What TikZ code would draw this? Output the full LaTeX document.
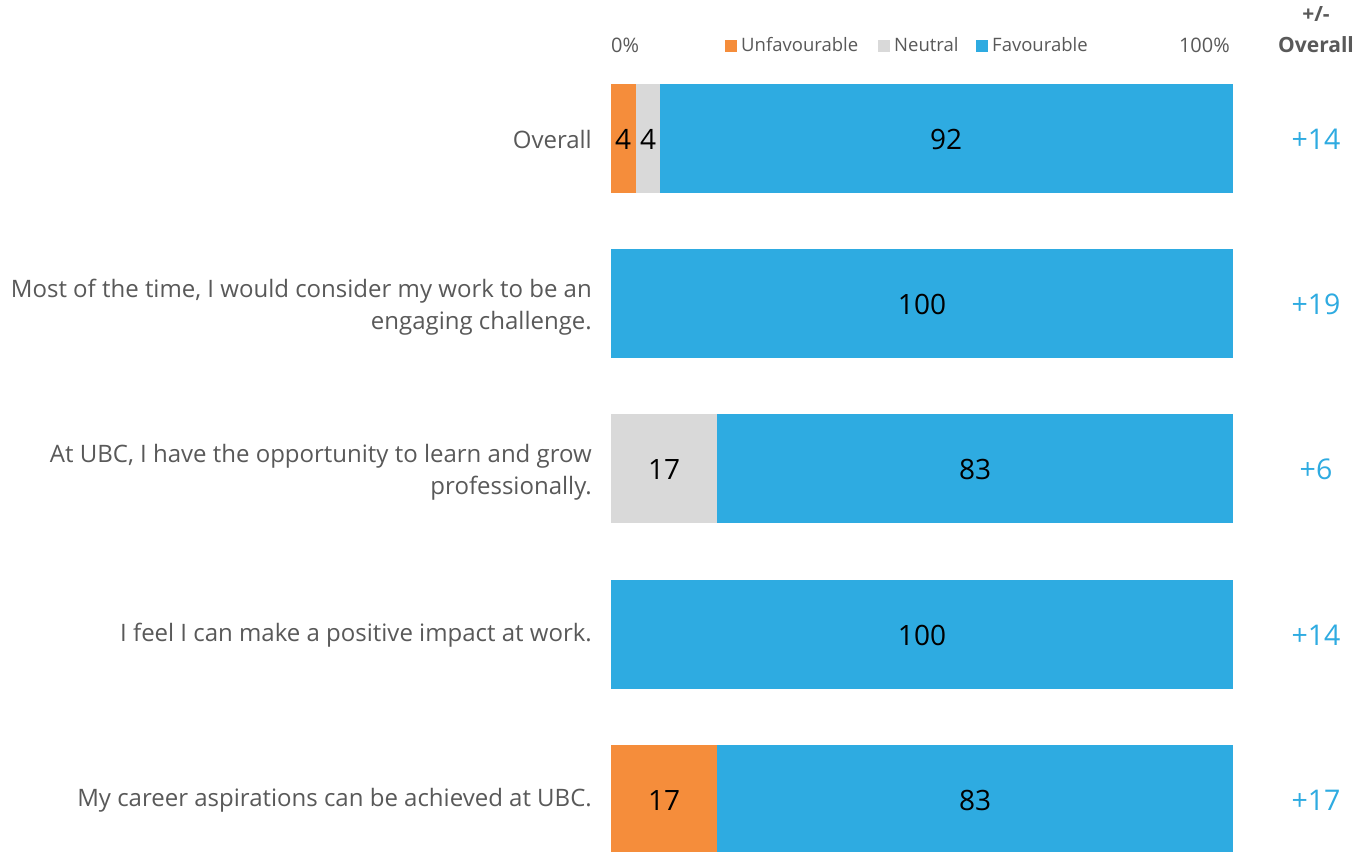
\documentclass[tikz,border=0pt]{standalone}
\usepackage{fontspec}
\setmainfont{Open Sans}
\definecolor{cblue}{HTML}{2EABE1}
\definecolor{corange}{HTML}{F58D3B}
\definecolor{cgray}{HTML}{D9D9D9}
\definecolor{ctext}{HTML}{595959}
\tikzset{
  lbl/.style={anchor=east, align=right, text=ctext, inner sep=0pt, font=\fontsize{24}{32}\selectfont},
  num/.style={inner sep=0pt, text=black, font=\fontsize{28}{34}\selectfont},
  diff/.style={inner sep=0pt, text=cblue, font=\fontsize{28.5}{34}\selectfont},
  leg/.style={inner sep=0pt, text=ctext, font=\fontsize{18.5}{22}\selectfont},
  pct/.style={inner sep=0pt, text=ctext, font=\fontsize{20}{22}\selectfont},
  hdr/.style={inner sep=0pt, text=ctext, font=\bfseries\fontsize{21}{24}\selectfont},
  sq/.style={minimum size=12pt, inner sep=0pt}
}
\begin{document}
\begin{tikzpicture}[x=1pt,y=-1pt]
\useasboundingbox[fill=white] (0,0) rectangle (1356,851);
% header
\node[pct, anchor=west] (p0) at (611,45) {0\%};
\node[pct, anchor=east] (p100) at (1230,45) {100\%};
\node[sq, fill=corange] (s1) at (731,46) {};
\node[leg, anchor=west] (l1) at (741,45) {Unfavourable};
\node[sq, fill=cgray] (s2) at (884,46) {};
\node[leg, anchor=west] (l2) at (894,45) {Neutral};
\node[sq, fill=cblue] (s3) at (982,46) {};
\node[leg, anchor=west] (l3) at (992,45) {Favourable};
\node[hdr] (h1) at (1316,14) {+/-};
\node[hdr] (h2) at (1316,45) {Overall};
% row 1
\fill[corange] (611,84) rectangle (636,193);
\fill[cgray] (636,84) rectangle (660,193);
\fill[cblue] (660,84) rectangle (1233,193);
\node[num] (r1a) at (623,139) {4};
\node[num] (r1b) at (648,139) {4};
\node[num] (r1c) at (946,139) {92};
\node[lbl] (t1) at (592,139) {Overall};
\node[diff] (d1) at (1316,139) {+14};
% row 2
\fill[cblue] (611,249) rectangle (1233,358);
\node[num] (r2c) at (922,304) {100};
\node[lbl] (t2) at (592,307) {Most of the time, I would consider my work to be an\\engaging challenge.};
\node[diff] (d2) at (1316,304) {+19};
% row 3
\fill[cgray] (611,414) rectangle (717,523);
\fill[cblue] (717,414) rectangle (1233,523);
\node[num] (r3b) at (664,469) {17};
\node[num] (r3c) at (975,469) {83};
\node[lbl] (t3) at (592,472) {At UBC, I have the opportunity to learn and grow\\professionally.};
\node[diff] (d3) at (1316,469) {+6};
% row 4
\fill[cblue] (611,580) rectangle (1233,689);
\node[num] (r4c) at (922,635) {100};
\node[lbl] (t4) at (592,635) {I feel I can make a positive impact at work.};
\node[diff] (d4) at (1316,635) {+14};
% row 5
\fill[corange] (611,745) rectangle (717,854);
\fill[cblue] (717,745) rectangle (1233,854);
\node[num] (r5a) at (664,800) {17};
\node[num] (r5c) at (975,800) {83};
\node[lbl] (t5) at (592,800) {My career aspirations can be achieved at UBC.};
\node[diff] (d5) at (1316,800) {+17};
\end{tikzpicture}
\end{document}
